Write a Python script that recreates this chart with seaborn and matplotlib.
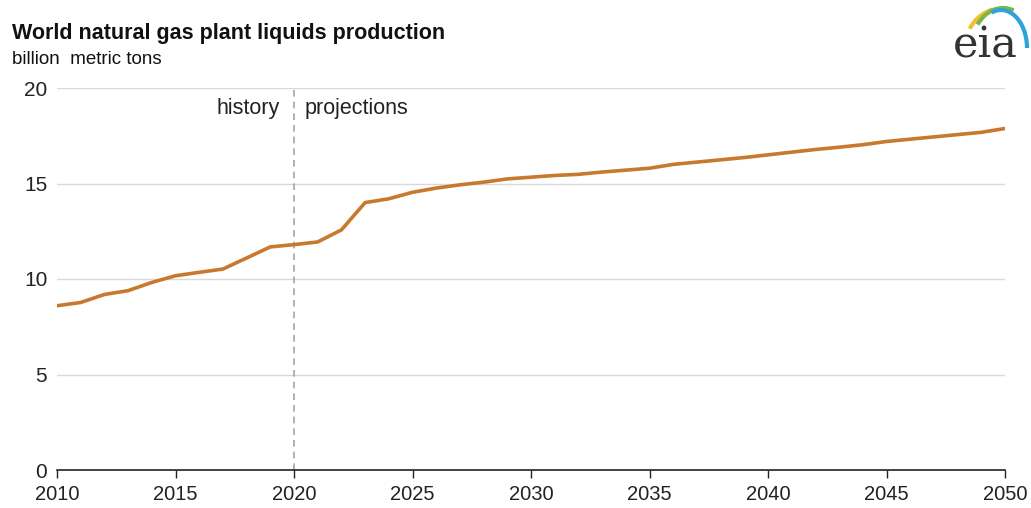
import numpy as np
import pandas as pd
import seaborn as sns
import matplotlib
matplotlib.use("Agg")
import matplotlib.pyplot as plt
from matplotlib.patches import Arc

# values (billion metric tons)
years = list(range(2010, 2051))
production = [8.60, 8.77, 9.19, 9.39, 9.82, 10.17, 10.35, 10.52, 11.10, 11.68,
              11.80, 11.94, 12.57, 14.00, 14.20, 14.54, 14.76, 14.93, 15.07, 15.24,
              15.33, 15.42, 15.48, 15.60, 15.70, 15.80, 16.00, 16.12, 16.24, 16.36,
              16.50, 16.64, 16.78, 16.90, 17.03, 17.20, 17.32, 17.44, 17.56, 17.68,
              17.88]
x_ticks = [2010, 2015, 2020, 2025, 2030, 2035, 2040, 2045, 2050]
y_ticks = [0, 5, 10, 15, 20]

title = "World natural gas plant liquids production"
units = "billion  metric tons"

df = pd.DataFrame({"year": years, "production": production})

sns.set_theme(style="white")
plt.rcParams["font.family"] = ["Liberation Sans", "DejaVu Sans"]

fig = plt.figure(figsize=(10.31, 5.08), dpi=100)
ax = fig.add_axes([57 / 1031, 1 - 470 / 508, (1005 - 57) / 1031, (470 - 88) / 508])

sns.lineplot(data=df, x="year", y="production", color="#c8792e", linewidth=2.6, ax=ax)

ax.set_xlim(2010, 2050)
ax.set_ylim(0, 20)
ax.set_xticks(x_ticks)
ax.set_yticks(y_ticks)
ax.set_xticklabels([str(t) for t in x_ticks], fontsize=14.5, color="#222222")
ax.set_yticklabels([str(t) for t in y_ticks], fontsize=15, color="#222222")
ax.set_xlabel("")
ax.set_ylabel("")

for y in y_ticks[1:]:
    ax.axhline(y, color="#d9d9d9", linewidth=1, zorder=0)

for side in ["top", "right", "left"]:
    ax.spines[side].set_visible(False)
ax.spines["bottom"].set_color("#222222")
ax.spines["bottom"].set_linewidth(1.2)
ax.tick_params(axis="x", direction="out", length=6, width=1, color="#222222", pad=5, bottom=True)
ax.tick_params(axis="y", length=0, pad=7)
ax.grid(False)

# history / projections divider
ax.axvline(2020, color="#a6a6a6", linestyle=(0, (4, 3)), linewidth=1.2, zorder=1)
ax.text(2019.4, 18.95, "history", ha="right", va="center", fontsize=15.5, color="#222222")
ax.text(2020.45, 18.95, "projections", ha="left", va="center", fontsize=15.5, color="#222222")

fig.text(12 / 1031, 1 - 34 / 508, title, fontsize=15.5, fontweight="bold", va="center", ha="left", color="#111111")
fig.text(12 / 1031, 1 - 59 / 508, units, fontsize=13.5, va="center", ha="left", color="#111111")

# eia logo
fig.text(985 / 1031, 1 - 45 / 508, "eia", fontsize=31, family="DejaVu Serif", ha="center", va="center", color="#333333")
lax = fig.add_axes([945 / 1031, 1 - 62 / 508, 86 / 1031, 60 / 508])
lax.set_xlim(0, 86)
lax.set_ylim(0, 60)
lax.axis("off")
lax.add_patch(Arc((58, 14), 76, 80, theta1=105, theta2=150, color="#f2c12e", linewidth=3))
lax.add_patch(Arc((58, 12), 64, 84, theta1=75, theta2=135, color="#7ab648", linewidth=3))
lax.add_patch(Arc((56, 14), 52, 76, theta1=0, theta2=105, color="#2ea3d9", linewidth=3))

fig.savefig("out.png", dpi=100)
